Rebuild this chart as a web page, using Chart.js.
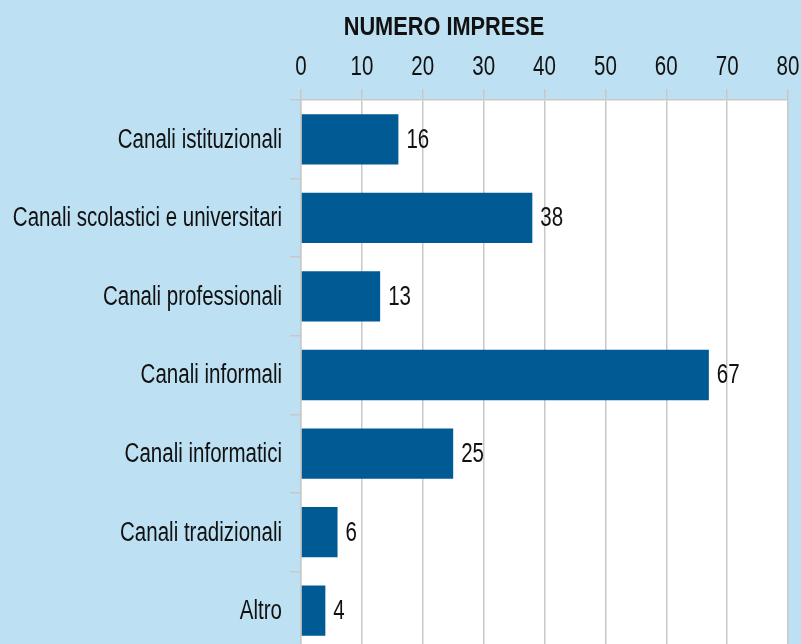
<!DOCTYPE html>
<html>
<head>
<meta charset="utf-8">
<script src="https://cdn.jsdelivr.net/npm/chart.js@4"></script>
<style>
  html, body { margin: 0; padding: 0; overflow: hidden; background: #bde0f2; }
  #wrap { width: 801px; height: 650px; }
</style>
</head>
<body>
<div id="wrap"><canvas id="grafico"></canvas></div>
<script>
const canali = [
  "Canali istituzionali",
  "Canali scolastici e universitari",
  "Canali professionali",
  "Canali informali",
  "Canali informatici",
  "Canali tradizionali",
  "Altro",
];
const imprese = [16, 38, 13, 67, 25, 6, 4];
const titolo = "NUMERO IMPRESE";

const FONT = "'Liberation Sans', Arial, sans-serif";
const STRETCH = 0.76; // simula un carattere "narrow"

function testo(ctx, s, x, y, sx, align) {
  ctx.save();
  ctx.translate(x, y);
  ctx.scale(sx, 1);
  ctx.textAlign = align;
  ctx.fillText(s, 0, 0);
  ctx.restore();
}

// sfondo bianco solo nell'area del grafico
const sfondoArea = {
  id: "sfondoArea",
  beforeDraw(chart) {
    const { ctx, chartArea: a } = chart;
    ctx.save();
    ctx.fillStyle = "#ffffff";
    ctx.fillRect(a.left, a.top, a.right - a.left, a.bottom - a.top);
    ctx.restore();
  },
};

// tutte le scritte: assi, valori, titolo
const scritte = {
  id: "scritte",
  afterDraw(chart) {
    const ctx = chart.ctx;
    const sx = chart.scales.x;
    const sy = chart.scales.y;
    ctx.save();
    ctx.fillStyle = "#111";
    ctx.textBaseline = "middle";
    ctx.font = "27px " + FONT;
    sx.ticks.forEach((t) => {
      testo(ctx, String(t.value), sx.getPixelForValue(t.value), 68, STRETCH, "center");
    });
    canali.forEach((c, i) => {
      testo(ctx, c, 282, sy.getPixelForValue(i) + 1, STRETCH, "right");
    });
    chart.getDatasetMeta(0).data.forEach((bar, i) => {
      testo(ctx, String(imprese[i]), bar.x + 8, bar.y + 1, STRETCH, "left");
    });
    ctx.font = "bold 25px " + FONT;
    testo(ctx, titolo, 444, 28, 0.87, "center");
    ctx.restore();
  },
};

new Chart(document.getElementById("grafico"), {
  type: "bar",
  data: {
    labels: canali,
    datasets: [
      {
        data: imprese,
        backgroundColor: "#005a94",
        borderWidth: 0,
        categoryPercentage: 1,
        barPercentage: 0.64,
      },
    ],
  },
  options: {
    indexAxis: "y",
    responsive: true,
    maintainAspectRatio: false,
    animation: false,
    layout: { padding: { left: 0, right: 13, top: 0, bottom: 0 } },
    plugins: {
      legend: { display: false },
      tooltip: { enabled: false },
    },
    scales: {
      x: {
        position: "top",
        min: 0,
        max: 80,
        ticks: { stepSize: 10, display: false },
        grid: { color: "#c8c8c8", lineWidth: 1.5, tickLength: 11 },
        border: { color: "#c8c8c8", width: 1.5 },
        afterFit(scale) {
          scale.height = 100;
        },
      },
      y: {
        ticks: { display: false },
        grid: { drawOnChartArea: false, color: "#c8c8c8", lineWidth: 1.5, tickLength: 11 },
        border: { color: "#c8c8c8", width: 1.5 },
        afterFit(scale) {
          scale.width = 301;
        },
      },
    },
  },
  plugins: [sfondoArea, scritte],
});
</script>
</body>
</html>
